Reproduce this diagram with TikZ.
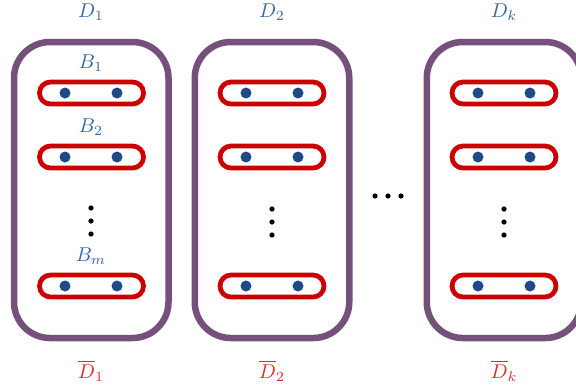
\documentclass[tikz,border=0pt]{standalone}
\usetikzlibrary{positioning}

\definecolor{plum}{HTML}{75507B}
\definecolor{scarlet}{HTML}{CC0000}
\definecolor{skydark}{HTML}{204A87}
\definecolor{skyblue}{HTML}{3465A4}
\definecolor{barred}{HTML}{E02B2B}

\begin{document}
\begin{tikzpicture}[
  dombox/.style  = {draw=plum, line width=3.25pt, rounded corners=18pt, minimum width=77.25pt, minimum height=148pt, inner sep=0pt},
  pairbox/.style = {draw=scarlet, line width=2.4pt, rounded corners=5.5pt, minimum width=52pt, minimum height=11pt, inner sep=0pt},
  elem/.style    = {circle, fill=skydark, minimum size=5.5pt, inner sep=0pt},
  vdot/.style    = {circle, fill=black, minimum size=2.6pt, inner sep=0pt},
  dlabel/.style  = {text=skyblue, inner sep=0pt},
  blabel/.style  = {text=skyblue, inner sep=0pt},
  cdlabel/.style = {text=barred, inner sep=0pt},
  x=0.5pt, y=-0.5pt,
]
  \useasboundingbox (0,0) rectangle (576,388);

  \node[dombox] (d1) at (91.25,190) {};
  \node[dombox] (d2) at (272,190) {};
  \node[dombox] (dk) at (504,190) {};

  \node[dlabel] (ld1) at (91,12) {$D_1$};
  \node[dlabel] (ld2) at (272,12) {$D_2$};
  \node[dlabel] (ldk) at (504,12) {$D_k$};
  \node[cdlabel] (lc1) at (91,371) {$\overline{D}_1$};
  \node[cdlabel] (lc2) at (272,371) {$\overline{D}_2$};
  \node[cdlabel] (lck) at (504,371) {$\overline{D}_k$};

  \node[blabel] (lb1) at (91,63) {$B_1$};
  \node[blabel] (lb2) at (91,127) {$B_2$};
  \node[blabel] (lbm) at (91,256) {$B_m$};

  \node[pairbox] (p11) at (91.5,93) {};
  \node[pairbox] (p12) at (91.5,157) {};
  \node[pairbox] (p1m) at (91.5,286) {};
  \node[pairbox] (p21) at (272,93) {};
  \node[pairbox] (p22) at (272,157) {};
  \node[pairbox] (p2m) at (272,286) {};
  \node[pairbox] (pk1) at (504,93) {};
  \node[pairbox] (pk2) at (504,157) {};
  \node[pairbox] (pkm) at (504,286) {};

  \node[elem] (e11a) at (65,93) {};
  \node[elem] (e11b) at (117,93) {};
  \node[elem] (e12a) at (65,157) {};
  \node[elem] (e12b) at (117,157) {};
  \node[elem] (e1ma) at (65,286) {};
  \node[elem] (e1mb) at (117,286) {};
  \node[elem] (e21a) at (246,93) {};
  \node[elem] (e21b) at (298,93) {};
  \node[elem] (e22a) at (246,157) {};
  \node[elem] (e22b) at (298,157) {};
  \node[elem] (e2ma) at (246,286) {};
  \node[elem] (e2mb) at (298,286) {};
  \node[elem] (ek1a) at (478,93) {};
  \node[elem] (ek1b) at (530,93) {};
  \node[elem] (ek2a) at (478,157) {};
  \node[elem] (ek2b) at (530,157) {};
  \node[elem] (ekma) at (478,286) {};
  \node[elem] (ekmb) at (530,286) {};

  \node[vdot] (v1a) at (91,208) {};
  \node[vdot] (v1b) at (91,221) {};
  \node[vdot] (v1c) at (91,234) {};
  \node[vdot] (v2a) at (272,209) {};
  \node[vdot] (v2b) at (272,222) {};
  \node[vdot] (v2c) at (272,235) {};
  \node[vdot] (vka) at (504,209) {};
  \node[vdot] (vkb) at (504,222) {};
  \node[vdot] (vkc) at (504,235) {};

  \node[vdot] (ha) at (375,196) {};
  \node[vdot] (hb) at (388,196) {};
  \node[vdot] (hc) at (401,196) {};
\end{tikzpicture}
\end{document}
